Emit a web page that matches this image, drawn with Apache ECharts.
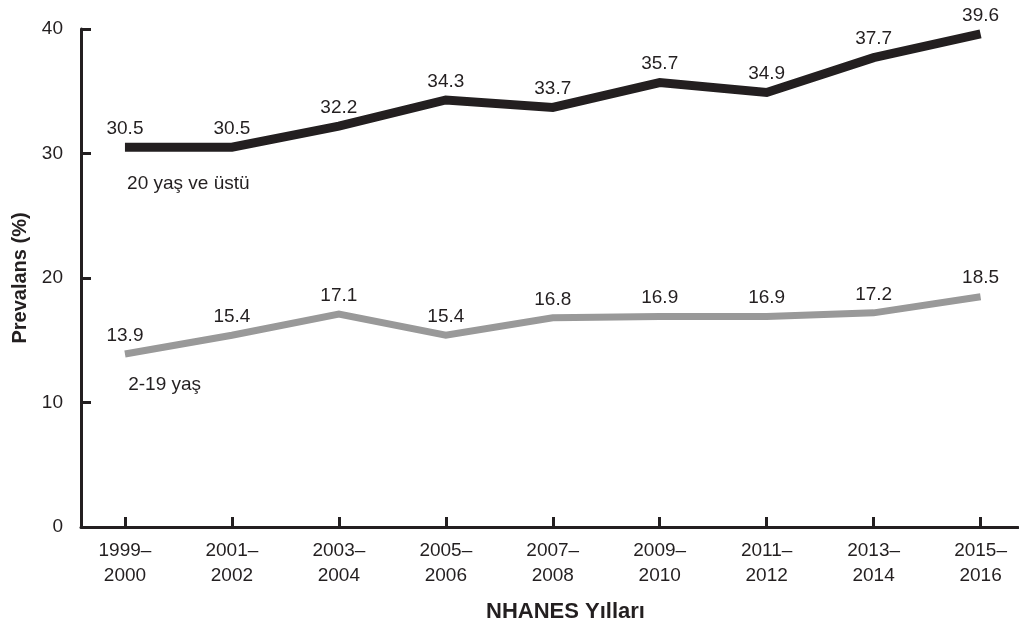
<!DOCTYPE html>
<html>
<head>
<meta charset="utf-8">
<script src="https://cdn.jsdelivr.net/npm/echarts@6/dist/echarts.min.js"></script>
<style>
  html, body { margin: 0; padding: 0; background: #ffffff; }
  #chart { width: 1019px; height: 629px; }
</style>
</head>
<body>
<div id="chart"></div>
<script>
// Survey cycles (two-line labels)
const categories = ['1999–\n2000', '2001–\n2002', '2003–\n2004', '2005–\n2006', '2007–\n2008',
                    '2009–\n2010', '2011–\n2012', '2013–\n2014', '2015–\n2016'];
// Prevalence (%) by age group
const adults = [30.5, 30.5, 32.2, 34.3, 33.7, 35.7, 34.9, 37.7, 39.6];
const youth  = [13.9, 15.4, 17.1, 15.4, 16.8, 16.9, 16.9, 17.2, 18.5];
const yTicks = [0, 10, 20, 30, 40];
const seriesNames = ['20 yaş ve üstü', '2-19 yaş'];
// where the group names sit, in data units [cycle index, %]
const adultsNameAt = [0.02, 27.6];
const youthNameAt = [0.03, 11.4];

const ink = '#231f20';
const grey = '#999999';
const FONT = 'Liberation Sans, Arial, sans-serif';
const idx = categories.map((_, i) => i);

function seriesFor(name, values, color, width, nameAt) {
  return {
    type: 'line',
    name: name,
    data: values.map((v, i) => [i, v]),
    // invisible symbols carry the value labels
    symbol: 'circle', symbolSize: 1, showSymbol: true,
    itemStyle: { color: 'rgba(0,0,0,0)' },
    lineStyle: { color: color, width: width, cap: 'butt', join: 'miter' },
    label: {
      show: true, position: 'top', distance: 8.5,
      color: ink, fontSize: 19, fontFamily: FONT,
      formatter: p => p.value[1].toFixed(1)
    },
    markPoint: {
      symbol: 'circle', symbolSize: 0, silent: true,
      data: [{ coord: nameAt }],
      label: {
        show: true, position: 'inside', align: 'left', verticalAlign: 'middle',
        color: ink, fontSize: 19, fontFamily: FONT,
        formatter: () => name
      }
    },
    z: 3
  };
}

const chart = echarts.init(document.getElementById('chart'), null, { renderer: 'canvas' });
chart.setOption({
  animation: false,
  backgroundColor: '#ffffff',
  grid: { left: 81, right: 1, top: 29, bottom: 102, containLabel: false, outerBoundsMode: 'none' },
  xAxis: {
    type: 'value',
    min: -0.411, max: 8.35,
    name: 'NHANES Yılları',
    nameLocation: 'middle', nameGap: 74,
    nameTextStyle: { color: ink, fontSize: 22, fontWeight: 'bold', fontFamily: FONT, padding: [0, 0, 0, 32] },
    axisLine: { show: true, onZero: false, lineStyle: { color: ink, width: 3 } },
    axisTick: { show: true, inside: true, length: 10, lineStyle: { color: ink, width: 3 }, customValues: idx },
    axisLabel: {
      customValues: idx, margin: 11,
      color: ink, fontSize: 19, fontFamily: FONT, lineHeight: 25,
      formatter: v => categories[Math.round(v)]
    },
    splitLine: { show: false }
  },
  yAxis: {
    type: 'value',
    min: 0, max: 40, interval: 10,
    name: 'Prevalans (%)',
    nameLocation: 'middle', nameGap: 51, nameRotate: 90,
    nameTextStyle: { color: ink, fontSize: 20, fontWeight: 'bold', fontFamily: FONT },
    axisLine: { show: true, onZero: false, lineStyle: { color: ink, width: 3 } },
    axisTick: { show: true, inside: true, length: 10, lineStyle: { color: ink, width: 3 }, customValues: yTicks },
    axisLabel: { customValues: yTicks, margin: 18, color: ink, fontSize: 19, fontFamily: FONT },
    splitLine: { show: false }
  },
  series: [
    seriesFor(seriesNames[0], adults, ink, 9, adultsNameAt),
    seriesFor(seriesNames[1], youth, grey, 7, youthNameAt)
  ]
});
</script>
</body>
</html>
